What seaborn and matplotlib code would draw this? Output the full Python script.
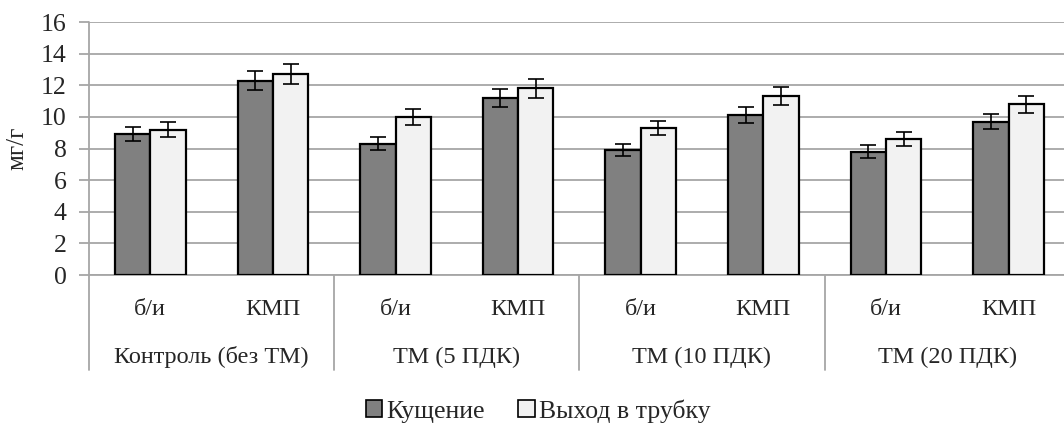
import matplotlib
matplotlib.use("Agg")
import matplotlib.pyplot as plt
import matplotlib.transforms as mtransforms
from matplotlib.patches import Patch
import seaborn as sns
import pandas as pd

groups = ["Контроль (без ТМ)", "ТМ (5 ПДК)", "ТМ (10 ПДК)", "ТМ (20 ПДК)"]
subcats = ["б/и", "КМП"]
series = ["Кущение", "Выход в трубку"]
kushchenie = [8.9, 12.3, 8.3, 11.2, 7.9, 10.1, 7.8, 9.7]
vykhod = [9.2, 12.7, 10.0, 11.8, 9.3, 11.3, 8.6, 10.8]
err_kushchenie = [0.45, 0.62, 0.42, 0.56, 0.40, 0.51, 0.39, 0.49]
err_vykhod = [0.46, 0.64, 0.50, 0.59, 0.47, 0.57, 0.43, 0.54]
y_ticks = [0, 2, 4, 6, 8, 10, 12, 14, 16]
y_label = "мг/г"

keys = [f"{g}|{s}" for g in groups for s in subcats]
rows = []
for k, v in zip(keys, kushchenie):
    rows.append({"key": k, "series": series[0], "value": v})
for k, v in zip(keys, vykhod):
    rows.append({"key": k, "series": series[1], "value": v})
df = pd.DataFrame(rows)

sns.set_theme(style="white")
plt.rcParams["font.family"] = ["Liberation Serif", "DejaVu Serif"]

colors = {"Кущение": "#808080", "Выход в трубку": "#F2F2F2"}
grid_c = "#A6A6A6"

fig = plt.figure(figsize=(10.64, 4.23), dpi=100)
ax = fig.add_axes([89 / 1064, 1 - 275 / 423, (1064 - 89) / 1064, 253 / 423])

sns.barplot(data=df, x="key", y="value", hue="series", order=keys,
            hue_order=series, palette=colors, width=0.575, dodge=True,
            errorbar=None, edgecolor="black", linewidth=1.6, ax=ax,
            legend=False, zorder=3)

errs = [err_kushchenie, err_vykhod]
for cont, e in zip(ax.containers, errs):
    xs = [p.get_x() + p.get_width() / 2 for p in cont.patches]
    hs = [p.get_height() for p in cont.patches]
    ax.errorbar(xs, hs, yerr=e, fmt="none", ecolor="black", elinewidth=1.2,
                capsize=5.5, capthick=1.2, zorder=4)

ax.set_ylim(0, 16)
ax.set_xlim(-0.5, -0.5 + (1064 - 89) / 122.6)
ax.set_yticks(y_ticks)
ax.set_yticklabels([str(t) for t in y_ticks], fontsize=18.5)
ax.yaxis.grid(True, color=grid_c, linewidth=1.3, zorder=0)
ax.set_axisbelow(True)
ax.tick_params(axis="y", length=7, width=1.3, color=grid_c, pad=9, left=True)
ax.tick_params(axis="x", length=0, pad=25)
ax.set_xticks(range(len(keys)))
ax.set_xticklabels([k.split("|")[1] for k in keys], fontsize=17.5)
for lbl in ax.get_xticklabels():
    lbl.set_verticalalignment("center")
ax.set_xlabel("")
ax.set_ylabel(y_label, fontsize=18, labelpad=9)

for s in ["top", "right"]:
    ax.spines[s].set_visible(False)
ax.spines["left"].set_visible(False)
ax.spines["bottom"].set_color(grid_c)
ax.spines["bottom"].set_linewidth(1.3)

trans = mtransforms.blended_transform_factory(ax.transData, ax.transAxes)
ax.plot([-0.5, -0.5], [-0.375, 1.0], transform=trans, color=grid_c,
        linewidth=1.3, clip_on=False, zorder=1)
for i in range(1, len(groups)):
    x = 2 * i - 0.5
    ax.plot([x, x], [-0.375, 0.0], transform=trans, color=grid_c,
            linewidth=1.3, clip_on=False)
for i, g in enumerate(groups):
    ax.text(2 * i + 0.5, -0.324, g, transform=trans, ha="center",
            va="center", fontsize=17.5)

handles = [Patch(facecolor=colors[s], edgecolor="black", linewidth=1.2, label=s)
           for s in series]
fig.legend(handles=handles, loc="center", bbox_to_anchor=(538 / 1064, 1 - 411 / 423),
           ncol=2, frameon=False, fontsize=18.5, handlelength=0.65,
           handleheight=0.65, handletextpad=0.15, columnspacing=1.3)

fig.savefig("out.png", dpi=100)
